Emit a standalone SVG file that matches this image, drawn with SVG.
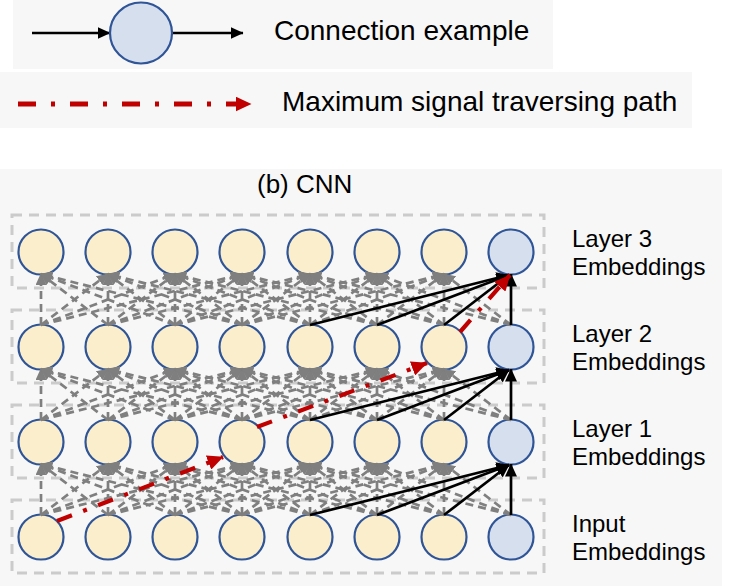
<svg xmlns="http://www.w3.org/2000/svg" width="729" height="586" viewBox="0 0 729 586">
<style>
text{font-family:"Liberation Sans",Arial,sans-serif;fill:#000}
.lg{font-size:28px}
.lb{font-size:24px}
.ti{font-size:26px}
.bg{fill:#f7f7f7}
.box{fill:none;stroke:#cbcbcb;stroke-width:3;stroke-dasharray:10 7}
.y{fill:#fbeecd;stroke:#2f5597;stroke-width:2.2}
.b{fill:#d6dfee;stroke:#2f5597;stroke-width:2.2}
.g line{stroke:#7f7f7f;stroke-width:2.7;stroke-dasharray:8 5;marker-end:url(#arrG)}
.k line{stroke:#000;stroke-width:2.7;marker-end:url(#arrK)}
.r{stroke:#c00000;stroke-width:4.2;stroke-dasharray:16 12 4 12;fill:none;marker-end:url(#arrR)}
</style>
<defs>
<marker id="arrG" markerUnits="userSpaceOnUse" viewBox="0 0 12 11" refX="11" refY="5.5" markerWidth="12" markerHeight="11" orient="auto"><path d="M0,0L12,5.5L0,11z" fill="#7f7f7f"/></marker>
<marker id="arrK" markerUnits="userSpaceOnUse" viewBox="0 0 13 12" refX="12.5" refY="6" markerWidth="13" markerHeight="12" orient="auto"><path d="M0,0L13,6L0,12z" fill="#000"/></marker>
<marker id="arrR" markerUnits="userSpaceOnUse" viewBox="0 0 16 15" refX="15.5" refY="7.5" markerWidth="16" markerHeight="15" orient="auto"><path d="M0,0L16,7.5L0,15z" fill="#c00000"/></marker>
</defs>
<rect width="729" height="586" fill="#fff"/>
<g id="legend">
<rect class="bg" x="13" y="0" width="540" height="69"/>
<rect class="bg" x="0" y="72" width="692" height="56"/>
<g class="k"><line x1="32" y1="33" x2="110" y2="33"/><line x1="172" y1="33" x2="243" y2="33"/></g>
<ellipse class="b" cx="141" cy="33" rx="31" ry="30.5"/>
<line x1="18" y1="104" x2="251" y2="104" stroke="#c00000" stroke-width="5" stroke-dasharray="18 15 4 15" marker-end="url(#arrR)"/>
<text class="lg" x="274" y="40">Connection example</text>
<text class="lg" x="282" y="111">Maximum signal traversing path</text>
</g>
<rect class="bg" x="0" y="169" width="722" height="417"/>
<text class="ti" x="257" y="193">(b) CNN</text>
<g id="rows">
<rect class="box" x="12" y="215" width="532" height="73"/>
<rect class="box" x="12" y="310" width="532" height="73"/>
<rect class="box" x="12" y="405" width="532" height="73"/>
<rect class="box" x="12" y="500" width="532" height="73"/>
</g>
<g id="nodes">
<g id="l3-0"><circle class="y" cx="41" cy="252" r="22.5"/></g>
<g id="l3-1"><circle class="y" cx="108" cy="252" r="22.5"/></g>
<g id="l3-2"><circle class="y" cx="175" cy="252" r="22.5"/></g>
<g id="l3-3"><circle class="y" cx="242" cy="252" r="22.5"/></g>
<g id="l3-4"><circle class="y" cx="310" cy="252" r="22.5"/></g>
<g id="l3-5"><circle class="y" cx="377" cy="252" r="22.5"/></g>
<g id="l3-6"><circle class="y" cx="444" cy="252" r="22.5"/></g>
<g id="l3-7"><circle class="b" cx="511" cy="252" r="22.5"/></g>
<g id="l2-0"><circle class="y" cx="41" cy="347" r="22.5"/></g>
<g id="l2-1"><circle class="y" cx="108" cy="347" r="22.5"/></g>
<g id="l2-2"><circle class="y" cx="175" cy="347" r="22.5"/></g>
<g id="l2-3"><circle class="y" cx="242" cy="347" r="22.5"/></g>
<g id="l2-4"><circle class="y" cx="310" cy="347" r="22.5"/></g>
<g id="l2-5"><circle class="y" cx="377" cy="347" r="22.5"/></g>
<g id="l2-6"><circle class="y" cx="444" cy="347" r="22.5"/></g>
<g id="l2-7"><circle class="b" cx="511" cy="347" r="22.5"/></g>
<g id="l1-0"><circle class="y" cx="41" cy="442" r="22.5"/></g>
<g id="l1-1"><circle class="y" cx="108" cy="442" r="22.5"/></g>
<g id="l1-2"><circle class="y" cx="175" cy="442" r="22.5"/></g>
<g id="l1-3"><circle class="y" cx="242" cy="442" r="22.5"/></g>
<g id="l1-4"><circle class="y" cx="310" cy="442" r="22.5"/></g>
<g id="l1-5"><circle class="y" cx="377" cy="442" r="22.5"/></g>
<g id="l1-6"><circle class="y" cx="444" cy="442" r="22.5"/></g>
<g id="l1-7"><circle class="b" cx="511" cy="442" r="22.5"/></g>
<g id="in-0"><circle class="y" cx="41" cy="537" r="22.5"/></g>
<g id="in-1"><circle class="y" cx="108" cy="537" r="22.5"/></g>
<g id="in-2"><circle class="y" cx="175" cy="537" r="22.5"/></g>
<g id="in-3"><circle class="y" cx="242" cy="537" r="22.5"/></g>
<g id="in-4"><circle class="y" cx="310" cy="537" r="22.5"/></g>
<g id="in-5"><circle class="y" cx="377" cy="537" r="22.5"/></g>
<g id="in-6"><circle class="y" cx="444" cy="537" r="22.5"/></g>
<g id="in-7"><circle class="b" cx="511" cy="537" r="22.5"/></g>
</g>
<g id="connectors">
<g class="g">
<line x1="41" y1="515" x2="41" y2="464"/><line x1="41" y1="515" x2="108" y2="464"/><line x1="41" y1="515" x2="175" y2="464"/><line x1="41" y1="515" x2="242" y2="464"/>
<line x1="108" y1="515" x2="41" y2="464"/><line x1="108" y1="515" x2="108" y2="464"/><line x1="108" y1="515" x2="175" y2="464"/><line x1="108" y1="515" x2="242" y2="464"/><line x1="108" y1="515" x2="310" y2="464"/>
<line x1="175" y1="515" x2="41" y2="464"/><line x1="175" y1="515" x2="108" y2="464"/><line x1="175" y1="515" x2="175" y2="464"/><line x1="175" y1="515" x2="242" y2="464"/><line x1="175" y1="515" x2="310" y2="464"/><line x1="175" y1="515" x2="377" y2="464"/>
<line x1="242" y1="515" x2="41" y2="464"/><line x1="242" y1="515" x2="108" y2="464"/><line x1="242" y1="515" x2="175" y2="464"/><line x1="242" y1="515" x2="242" y2="464"/><line x1="242" y1="515" x2="310" y2="464"/><line x1="242" y1="515" x2="377" y2="464"/><line x1="242" y1="515" x2="444" y2="464"/>
<line x1="310" y1="515" x2="108" y2="464"/><line x1="310" y1="515" x2="175" y2="464"/><line x1="310" y1="515" x2="242" y2="464"/><line x1="310" y1="515" x2="310" y2="464"/><line x1="310" y1="515" x2="377" y2="464"/><line x1="310" y1="515" x2="444" y2="464"/>
<line x1="377" y1="515" x2="175" y2="464"/><line x1="377" y1="515" x2="242" y2="464"/><line x1="377" y1="515" x2="310" y2="464"/><line x1="377" y1="515" x2="377" y2="464"/><line x1="377" y1="515" x2="444" y2="464"/>
<line x1="444" y1="515" x2="242" y2="464"/><line x1="444" y1="515" x2="310" y2="464"/><line x1="444" y1="515" x2="377" y2="464"/><line x1="444" y1="515" x2="444" y2="464"/>
<line x1="511" y1="515" x2="310" y2="464"/><line x1="511" y1="515" x2="377" y2="464"/><line x1="511" y1="515" x2="444" y2="464"/>

<line x1="41" y1="420" x2="41" y2="369"/><line x1="41" y1="420" x2="108" y2="369"/><line x1="41" y1="420" x2="175" y2="369"/><line x1="41" y1="420" x2="242" y2="369"/>
<line x1="108" y1="420" x2="41" y2="369"/><line x1="108" y1="420" x2="108" y2="369"/><line x1="108" y1="420" x2="175" y2="369"/><line x1="108" y1="420" x2="242" y2="369"/><line x1="108" y1="420" x2="310" y2="369"/>
<line x1="175" y1="420" x2="41" y2="369"/><line x1="175" y1="420" x2="108" y2="369"/><line x1="175" y1="420" x2="175" y2="369"/><line x1="175" y1="420" x2="242" y2="369"/><line x1="175" y1="420" x2="310" y2="369"/><line x1="175" y1="420" x2="377" y2="369"/>
<line x1="242" y1="420" x2="41" y2="369"/><line x1="242" y1="420" x2="108" y2="369"/><line x1="242" y1="420" x2="175" y2="369"/><line x1="242" y1="420" x2="242" y2="369"/><line x1="242" y1="420" x2="310" y2="369"/><line x1="242" y1="420" x2="377" y2="369"/><line x1="242" y1="420" x2="444" y2="369"/>
<line x1="310" y1="420" x2="108" y2="369"/><line x1="310" y1="420" x2="175" y2="369"/><line x1="310" y1="420" x2="242" y2="369"/><line x1="310" y1="420" x2="310" y2="369"/><line x1="310" y1="420" x2="377" y2="369"/><line x1="310" y1="420" x2="444" y2="369"/>
<line x1="377" y1="420" x2="175" y2="369"/><line x1="377" y1="420" x2="242" y2="369"/><line x1="377" y1="420" x2="310" y2="369"/><line x1="377" y1="420" x2="377" y2="369"/><line x1="377" y1="420" x2="444" y2="369"/>
<line x1="444" y1="420" x2="242" y2="369"/><line x1="444" y1="420" x2="310" y2="369"/><line x1="444" y1="420" x2="377" y2="369"/><line x1="444" y1="420" x2="444" y2="369"/>
<line x1="511" y1="420" x2="310" y2="369"/><line x1="511" y1="420" x2="377" y2="369"/><line x1="511" y1="420" x2="444" y2="369"/>

<line x1="41" y1="325" x2="41" y2="274"/><line x1="41" y1="325" x2="108" y2="274"/><line x1="41" y1="325" x2="175" y2="274"/><line x1="41" y1="325" x2="242" y2="274"/>
<line x1="108" y1="325" x2="41" y2="274"/><line x1="108" y1="325" x2="108" y2="274"/><line x1="108" y1="325" x2="175" y2="274"/><line x1="108" y1="325" x2="242" y2="274"/><line x1="108" y1="325" x2="310" y2="274"/>
<line x1="175" y1="325" x2="41" y2="274"/><line x1="175" y1="325" x2="108" y2="274"/><line x1="175" y1="325" x2="175" y2="274"/><line x1="175" y1="325" x2="242" y2="274"/><line x1="175" y1="325" x2="310" y2="274"/><line x1="175" y1="325" x2="377" y2="274"/>
<line x1="242" y1="325" x2="41" y2="274"/><line x1="242" y1="325" x2="108" y2="274"/><line x1="242" y1="325" x2="175" y2="274"/><line x1="242" y1="325" x2="242" y2="274"/><line x1="242" y1="325" x2="310" y2="274"/><line x1="242" y1="325" x2="377" y2="274"/><line x1="242" y1="325" x2="444" y2="274"/>
<line x1="310" y1="325" x2="108" y2="274"/><line x1="310" y1="325" x2="175" y2="274"/><line x1="310" y1="325" x2="242" y2="274"/><line x1="310" y1="325" x2="310" y2="274"/><line x1="310" y1="325" x2="377" y2="274"/><line x1="310" y1="325" x2="444" y2="274"/>
<line x1="377" y1="325" x2="175" y2="274"/><line x1="377" y1="325" x2="242" y2="274"/><line x1="377" y1="325" x2="310" y2="274"/><line x1="377" y1="325" x2="377" y2="274"/><line x1="377" y1="325" x2="444" y2="274"/>
<line x1="444" y1="325" x2="242" y2="274"/><line x1="444" y1="325" x2="310" y2="274"/><line x1="444" y1="325" x2="377" y2="274"/><line x1="444" y1="325" x2="444" y2="274"/>
<line x1="511" y1="325" x2="310" y2="274"/><line x1="511" y1="325" x2="377" y2="274"/><line x1="511" y1="325" x2="444" y2="274"/>
</g>
<g class="k">
<line x1="310" y1="515" x2="509" y2="465"/><line x1="377" y1="515" x2="509" y2="465"/><line x1="444" y1="515" x2="509" y2="465"/><line x1="511" y1="515" x2="511" y2="464"/>
<line x1="310" y1="420" x2="509" y2="370"/><line x1="377" y1="420" x2="509" y2="370"/><line x1="444" y1="420" x2="509" y2="370"/><line x1="511" y1="420" x2="511" y2="369"/>
<line x1="310" y1="325" x2="509" y2="275"/><line x1="377" y1="325" x2="509" y2="275"/><line x1="444" y1="325" x2="509" y2="275"/><line x1="511" y1="325" x2="511" y2="274"/>
</g>
<path class="r" d="M57 521L223 457"/>
<path class="r" d="M257 427L427 363"/>
<path class="r" d="M460 332L510 275"/>
</g>
<g id="labels">
<text class="lb" x="572" y="247">Layer 3</text><text class="lb" x="572" y="275">Embeddings</text>
<text class="lb" x="572" y="342">Layer 2</text><text class="lb" x="572" y="370">Embeddings</text>
<text class="lb" x="572" y="437">Layer 1</text><text class="lb" x="572" y="465">Embeddings</text>
<text class="lb" x="572" y="532">Input</text><text class="lb" x="572" y="560">Embeddings</text>
</g>
</svg>
